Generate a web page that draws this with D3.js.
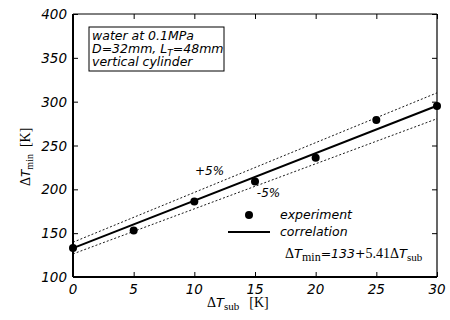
<!DOCTYPE html>
<html>
<head>
<meta charset="utf-8">
<script src="https://cdn.jsdelivr.net/npm/d3@7"></script>
<style>
  body { margin: 0; background: #fff; }
  svg text { fill: #000; }
  .sans { font-family: "DejaVu Sans", "Liberation Sans", Arial, sans-serif; font-style: italic; }
  .serif { font-family: "Liberation Serif", "Times New Roman", serif; font-style: normal; }
</style>
</head>
<body>
<svg id="chart" width="450" height="320"></svg>
<script>
// experimental points (subcooling K, minimum film boiling superheat K)
const subcooling = [0, 5, 10, 15, 20, 25, 30];
const dTmin = [133, 153, 186, 209, 236, 279, 295];
// correlation: dTmin = 133 + 5.41 * dTsub, with +-5% band
const corrA = 133;
const corrB = 5.41;
const bandFactors = [1.05, 0.95];
const xTicks = [0, 5, 10, 15, 20, 25, 30];
const yTicks = [100, 150, 200, 250, 300, 350, 400];
const infoLines = ["water at 0.1MPa", "D=32mm, L", "vertical cylinder"];

const margin = { top: 14, right: 13, bottom: 43, left: 73 };
const width = 450 - margin.left - margin.right;
const height = 320 - margin.top - margin.bottom;

const svg = d3.select("#chart");
const g = svg.append("g").attr("transform", `translate(${margin.left},${margin.top})`);

const x = d3.scaleLinear().domain([0, 30]).range([0, width]);
const y = d3.scaleLinear().domain([100, 400]).range([height, 0]);

// inward ticks on all four sides
g.append("g").attr("transform", `translate(0,${height})`)
  .call(d3.axisBottom(x).tickValues(xTicks).tickSize(-5).tickFormat(""))
  .call(a => a.select(".domain").remove());
g.append("g")
  .call(d3.axisTop(x).tickValues(xTicks).tickSize(-5).tickFormat(""))
  .call(a => a.select(".domain").remove());
g.append("g")
  .call(d3.axisLeft(y).tickValues(yTicks).tickSize(-5).tickFormat(""))
  .call(a => a.select(".domain").remove());
g.append("g").attr("transform", `translate(${width},0)`)
  .call(d3.axisRight(y).tickValues(yTicks).tickSize(-5).tickFormat(""))
  .call(a => a.select(".domain").remove());

// frame
g.append("line").attr("x1", 0).attr("x2", width).attr("y1", 0).attr("y2", 0).attr("stroke", "#000").attr("stroke-width", 1);
g.append("line").attr("x1", width).attr("x2", width).attr("y1", 0).attr("y2", height).attr("stroke", "#000").attr("stroke-width", 1.2);
g.append("line").attr("x1", 0).attr("x2", 0).attr("y1", 0).attr("y2", height).attr("stroke", "#000").attr("stroke-width", 2);
g.append("line").attr("x1", 0).attr("x2", width).attr("y1", height).attr("y2", height).attr("stroke", "#000").attr("stroke-width", 2);

// tick labels
g.selectAll(".xl").data(xTicks).enter().append("text")
  .attr("class", "sans").attr("x", d => x(d)).attr("y", height + 17)
  .attr("text-anchor", "middle").style("font-size", "13.5px").text(d => d);
g.selectAll(".yl").data(yTicks).enter().append("text")
  .attr("class", "sans").attr("x", -6).attr("y", d => y(d) + 5)
  .attr("text-anchor", "end").style("font-size", "13.5px").text(d => d);

// correlation and band
const corr = v => corrA + corrB * v;
const line = d3.line().x(d => x(d[0])).y(d => y(d[1]));
bandFactors.forEach(f => {
  g.append("path")
    .attr("d", line([[0, corr(0) * f], [30, corr(30) * f]]))
    .attr("fill", "none").attr("stroke", "#000").attr("stroke-width", 0.9)
    .attr("stroke-dasharray", "2,2");
});
g.append("path")
  .attr("d", line([[0, corr(0)], [30, corr(30)]]))
  .attr("fill", "none").attr("stroke", "#000").attr("stroke-width", 2);

// points
g.selectAll(".pt").data(subcooling).enter().append("circle")
  .attr("cx", d => x(d)).attr("cy", (d, i) => y(dTmin[i]))
  .attr("r", 4).attr("fill", "#000");

// band labels
g.append("text").attr("class", "sans").attr("x", x(10.05)).attr("y", y(216)).style("font-size", "12px").text("+5%");
g.append("text").attr("class", "sans").attr("x", x(15.15)).attr("y", y(191)).style("font-size", "12px").text("-5%");

// info box
const box = g.append("g").attr("transform", "translate(16,13)");
box.append("rect").attr("width", 135).attr("height", 44).attr("fill", "#fff").attr("stroke", "#000").attr("stroke-width", 1);
box.append("text").attr("class", "sans").attr("x", 3).attr("y", 13).style("font-size", "12.5px").text(infoLines[0]);
const l2 = box.append("text").attr("class", "sans").attr("x", 3).attr("y", 25.5).style("font-size", "12.5px");
l2.append("tspan").text(infoLines[1]);
l2.append("tspan").attr("dy", 3).style("font-size", "9px").text("T");
l2.append("tspan").attr("dy", -3).text("=48mm");
box.append("text").attr("class", "sans").attr("x", 3).attr("y", 39).style("font-size", "12.5px").text(infoLines[2]);

// legend
g.append("circle").attr("cx", 176).attr("cy", 201).attr("r", 4).attr("fill", "#000");
g.append("text").attr("class", "sans").attr("x", 207).attr("y", 205).style("font-size", "12.5px").text("experiment");
g.append("line").attr("x1", 155).attr("x2", 197).attr("y1", 218).attr("y2", 218).attr("stroke", "#000").attr("stroke-width", 2);
g.append("text").attr("class", "sans").attr("x", 207).attr("y", 222).style("font-size", "12.5px").text("correlation");

// formula
const f = g.append("text").attr("x", 212).attr("y", 244).style("font-size", "14px");
f.append("tspan").attr("class", "serif").text("\u0394");
f.append("tspan").attr("class", "sans").style("font-size", "13px").text("T");
f.append("tspan").attr("class", "serif").attr("dy", 3).style("font-size", "12px").text("min");
f.append("tspan").attr("class", "sans").attr("dy", -3).style("font-size", "12.5px").text("=133+");
f.append("tspan").attr("class", "serif").text("5.41\u0394");
f.append("tspan").attr("class", "sans").style("font-size", "13px").text("T");
f.append("tspan").attr("class", "serif").attr("dy", 3).style("font-size", "11px").text("sub");

// axis titles
const xt = svg.append("text").attr("x", 207).attr("y", 307).style("font-size", "14px");
xt.append("tspan").attr("class", "serif").text("\u0394");
xt.append("tspan").attr("class", "sans").style("font-size", "13px").text("T");
xt.append("tspan").attr("class", "serif").attr("dy", 3).style("font-size", "11px").text("sub");
xt.append("tspan").attr("class", "serif").attr("dy", -3).attr("dx", 10).text("[K]");

const yt = svg.append("text").attr("transform", "translate(30,186) rotate(-90)").style("font-size", "14px");
yt.append("tspan").attr("class", "serif").text("\u0394");
yt.append("tspan").attr("class", "sans").style("font-size", "12px").text("T");
yt.append("tspan").attr("class", "serif").attr("dy", 3).style("font-size", "10px").text("min");
yt.append("tspan").attr("class", "serif").attr("dy", -3).attr("dx", 7).text("[K]");
</script>
</body>
</html>
